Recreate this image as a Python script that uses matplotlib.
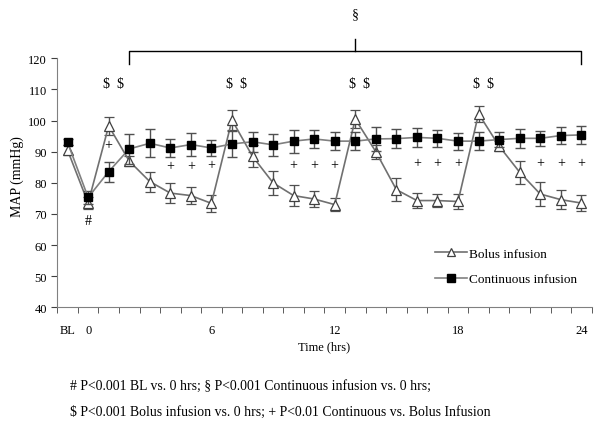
import numpy as np
import matplotlib
matplotlib.use("Agg")
from matplotlib import pyplot as plt
from matplotlib.lines import Line2D

plt.rcParams['font.family'] = ['Liberation Serif', 'DejaVu Serif']
plt.rcParams['text.parse_math'] = False

# time points: BL, then hours 0..24
labels = ["BL"] + [str(h) for h in range(25)]
shown = ["BL", "0", "6", "12", "18", "24"]

bolus = [90.5, 73.5, 98.3, 87.0, 80.4, 76.7, 75.9, 73.4, 100.2, 88.5, 80.0, 75.9, 74.8,
         73.0, 100.5, 90.0, 77.8, 74.3, 74.3, 74.0, 102.2, 91.8, 83.4, 76.4, 74.6, 73.5]
bolus_err = [1.5, 2.0, 3.0, 1.5, 3.2, 3.2, 2.7, 2.7, 3.2, 3.5, 3.8, 3.3, 2.7,
             2.0, 3.0, 2.2, 3.8, 2.5, 2.2, 2.3, 2.5, 1.5, 3.7, 3.8, 3.0, 2.5]
cont = [93.0, 75.3, 83.6, 90.9, 92.7, 91.2, 92.3, 91.2, 92.5, 93.2, 92.2, 93.4, 94.1,
        93.4, 93.4, 94.1, 94.2, 94.6, 94.3, 93.4, 93.4, 93.9, 94.3, 94.3, 95.2, 95.4]
cont_err = [1.0, 2.0, 3.2, 4.8, 4.5, 3.0, 3.7, 2.7, 4.2, 3.2, 3.5, 3.7, 3.0,
            2.8, 3.0, 3.9, 3.0, 3.0, 2.7, 2.7, 3.0, 2.3, 3.0, 2.5, 2.6, 2.9]

# significance marks
hash_hour = "0"
dollar_hours = ["1", "7", "13", "19"]
plus_hours = ["1", "4", "5", "6", "10", "11", "12", "16", "17", "18", "22", "23", "24"]
plus_y = [92.3, 85.5, 85.5, 85.7, 86, 86, 86, 86.6, 86.6, 86.6, 86.6, 86.6, 86.6]
bracket_from, bracket_to = "2", "24"

x = np.arange(len(labels))
pos = {lab: i for i, lab in enumerate(labels)}

fig = plt.figure(figsize=(6, 4.27), dpi=100)
ax = fig.add_axes([0.0955, 0.278, 0.8905, 0.583])

ax.errorbar(x, bolus, yerr=bolus_err, color='#707070', lw=1.2, marker='^', ms=6.5,
            mfc='white', mec='#404040', mew=0.9, ecolor='#505050', elinewidth=1,
            capsize=3.5, capthick=1, zorder=3)
ax.errorbar(x, cont, yerr=cont_err, color='#808080', lw=1.2, marker='s', ms=6.3,
            mfc='black', mec='black', ecolor='#505050', elinewidth=1,
            capsize=3.5, capthick=1, zorder=4)

ax.text(pos[hash_hour], 67.8, '#', ha='center', va='center', fontsize=10)
for h in dollar_hours:
    ax.text(pos[h] + 0.22, 112, '$  $', ha='center', va='center', fontsize=10)
for h, yv in zip(plus_hours, plus_y):
    ax.text(pos[h], yv, '+', ha='center', va='center', fontsize=10)

# bracket above the plot
x0, x1 = pos[bracket_from], pos[bracket_to]
xm = (x0 + x1) / 2
ax.plot([x0, x0, x1, x1], [118.2, 122.3, 122.3, 118.2], color='black', lw=1, clip_on=False)
ax.plot([xm, xm], [122.3, 126.3], color='black', lw=1, clip_on=False)
ax.text(xm, 134.3, '§', ha='center', va='center', fontsize=10, clip_on=False)

ax.set_xlim(-0.5, len(labels) - 0.5)
ax.set_ylim(40, 120)
ax.set_yticks(range(40, 121, 10))
ax.set_xticks(x)
ax.set_xticklabels([lab if lab in shown else '' for lab in labels])
ax.set_xticks(np.arange(-0.5, len(labels), 1), minor=True)
ax.tick_params(axis='x', which='major', length=0, labelsize=9, pad=12)
ax.tick_params(axis='x', which='minor', length=4, direction='out', color='#404040')
ax.tick_params(axis='y', length=4, direction='out', labelsize=9, color='#404040')
ax.spines['top'].set_visible(False)
ax.spines['right'].set_visible(False)
ax.spines['left'].set_color('#808080')
ax.spines['bottom'].set_color('#808080')
ax.set_xlabel('Time (hrs)', fontsize=9, labelpad=3)
ax.set_ylabel('MAP (mmHg)', fontsize=10)
ax.yaxis.set_label_coords(-0.062, 0.53)

handles = [
    Line2D([], [], color='#707070', lw=1.2, marker='^', ms=6, mfc='white', mec='#404040', mew=0.9),
    Line2D([], [], color='#808080', lw=1.2, marker='s', ms=6, mfc='black', mec='black'),
]
fig.legend(handles, ['Bolus infusion', 'Continuous infusion'], loc='center left',
           bbox_to_anchor=(0.725, 0.374), frameon=False, fontsize=9.5, borderpad=0,
           borderaxespad=0, handlelength=2.4, handletextpad=0.15, labelspacing=1.0)

fig.text(0.117, 0.094, '# P<0.001 BL vs. 0 hrs; § P<0.001 Continuous infusion vs. 0 hrs;',
         fontsize=9.9, va='center')
fig.text(0.117, 0.034, '$ P<0.001 Bolus infusion vs. 0 hrs; + P<0.01 Continuous vs. Bolus Infusion',
         fontsize=9.9, va='center')

fig.savefig('out.png', dpi=100)
